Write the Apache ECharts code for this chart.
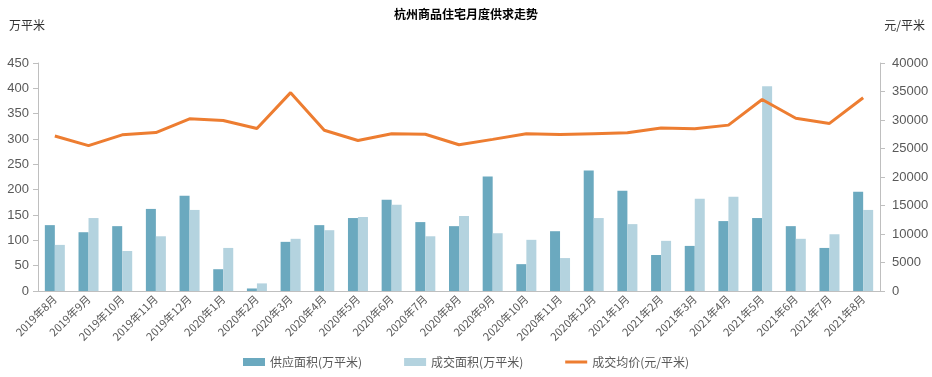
<!DOCTYPE html>
<html>
<head>
<meta charset="utf-8">
<script src="https://cdn.jsdelivr.net/npm/echarts@6/dist/echarts.min.js"></script>
<style>
  html, body { margin: 0; padding: 0; background: #fff; }
  #chart { width: 932px; height: 377px; }
</style>
</head>
<body>
<div id="chart"></div>
<script>
// 月份
const months = ['2019年8月', '2019年9月', '2019年10月', '2019年11月', '2019年12月', '2020年1月', '2020年2月',
    '2020年3月', '2020年4月', '2020年5月', '2020年6月', '2020年7月', '2020年8月', '2020年9月', '2020年10月',
    '2020年11月', '2020年12月', '2021年1月', '2021年2月', '2021年3月', '2021年4月', '2021年5月', '2021年6月',
    '2021年7月', '2021年8月'];

// 供应面积(万平米)
const supplyArea = [130, 116, 128, 162, 188, 43, 5, 97, 130, 144, 180, 136, 128, 226, 53, 118, 238, 198, 71,
    89, 138, 144, 128, 85, 196];

// 成交面积(万平米)
const dealArea = [91, 144, 79, 108, 160, 85, 15, 103, 120, 146, 170, 108, 148, 114, 101, 65, 144, 132, 99,
    182, 186, 404, 103, 112, 160];

// 成交均价(元/平米)
const avgPrice = [27200, 25500, 27400, 27800, 30200, 29900, 28500, 34800, 28200, 26400, 27600, 27500, 25650,
    26600, 27600, 27450, 27600, 27750, 28600, 28450, 29100, 33600, 30300, 29400, 33900];

const chart = echarts.init(document.getElementById('chart'));

const axisColor = '#bfbfbf';
const labelColor = '#595959';
const cjkFont = 'Noto Sans CJK SC';

const option = {
    animation: false,
    title: [
        {
            text: '杭州商品住宅月度供求走势',
            left: 'center',
            top: 3,
            textStyle: { fontSize: 12, fontWeight: 'bold', color: '#000', fontFamily: cjkFont }
        },
        {
            text: '万平米',
            left: 4,
            top: 14,
            textStyle: { fontSize: 12, fontWeight: 'normal', color: '#333', fontFamily: cjkFont }
        },
        {
            text: '元/平米',
            right: 2,
            top: 14,
            textStyle: { fontSize: 12, fontWeight: 'normal', color: '#333', fontFamily: cjkFont }
        }
    ],
    legend: {
        bottom: 4,
        left: 'center',
        itemGap: 42,
        itemWidth: 22,
        itemHeight: 8,
        textStyle: { fontSize: 12, color: labelColor, fontFamily: cjkFont },
        data: [
            { name: '供应面积(万平米)', icon: 'rect' },
            { name: '成交面积(万平米)', icon: 'rect' },
            { name: '成交均价(元/平米)', icon: 'path://M0,3 L22,3 L22,6 L0,6 Z' }
        ]
    },
    grid: { left: 38, right: 52, top: 63, bottom: 86 },
    xAxis: {
        type: 'category',
        data: months,
        axisLine: { lineStyle: { color: axisColor } },
        axisTick: { show: false },
        axisLabel: {
            interval: 0,
            rotate: 45,
            fontSize: 11,
            color: labelColor,
            margin: 6,
            fontFamily: cjkFont
        }
    },
    yAxis: [
        {
            type: 'value',
            min: 0,
            max: 450,
            interval: 50,
            axisLine: { show: true, lineStyle: { color: axisColor } },
            axisTick: { show: true, length: 5, lineStyle: { color: axisColor } },
            splitLine: { show: false },
            axisLabel: { fontSize: 13, color: labelColor, margin: 9 }
        },
        {
            type: 'value',
            min: 0,
            max: 40000,
            interval: 5000,
            axisLine: { show: true, lineStyle: { color: axisColor } },
            axisTick: { show: true, length: 5, lineStyle: { color: axisColor } },
            splitLine: { show: false },
            axisLabel: { fontSize: 13, color: labelColor, margin: 12, formatter: (v) => String(v) }
        }
    ],
    series: [
        {
            name: '供应面积(万平米)',
            type: 'bar',
            data: supplyArea,
            barWidth: 10,
            barGap: '0%',
            itemStyle: { color: '#6BA9BF' }
        },
        {
            name: '成交面积(万平米)',
            type: 'bar',
            data: dealArea,
            barWidth: 10,
            itemStyle: { color: '#B4D3DF' }
        },
        {
            name: '成交均价(元/平米)',
            type: 'line',
            yAxisIndex: 1,
            data: avgPrice,
            symbol: 'none',
            lineStyle: { width: 3, color: '#ED7D31' },
            itemStyle: { color: '#ED7D31' }
        }
    ]
};

chart.setOption(option);
</script>
</body>
</html>
